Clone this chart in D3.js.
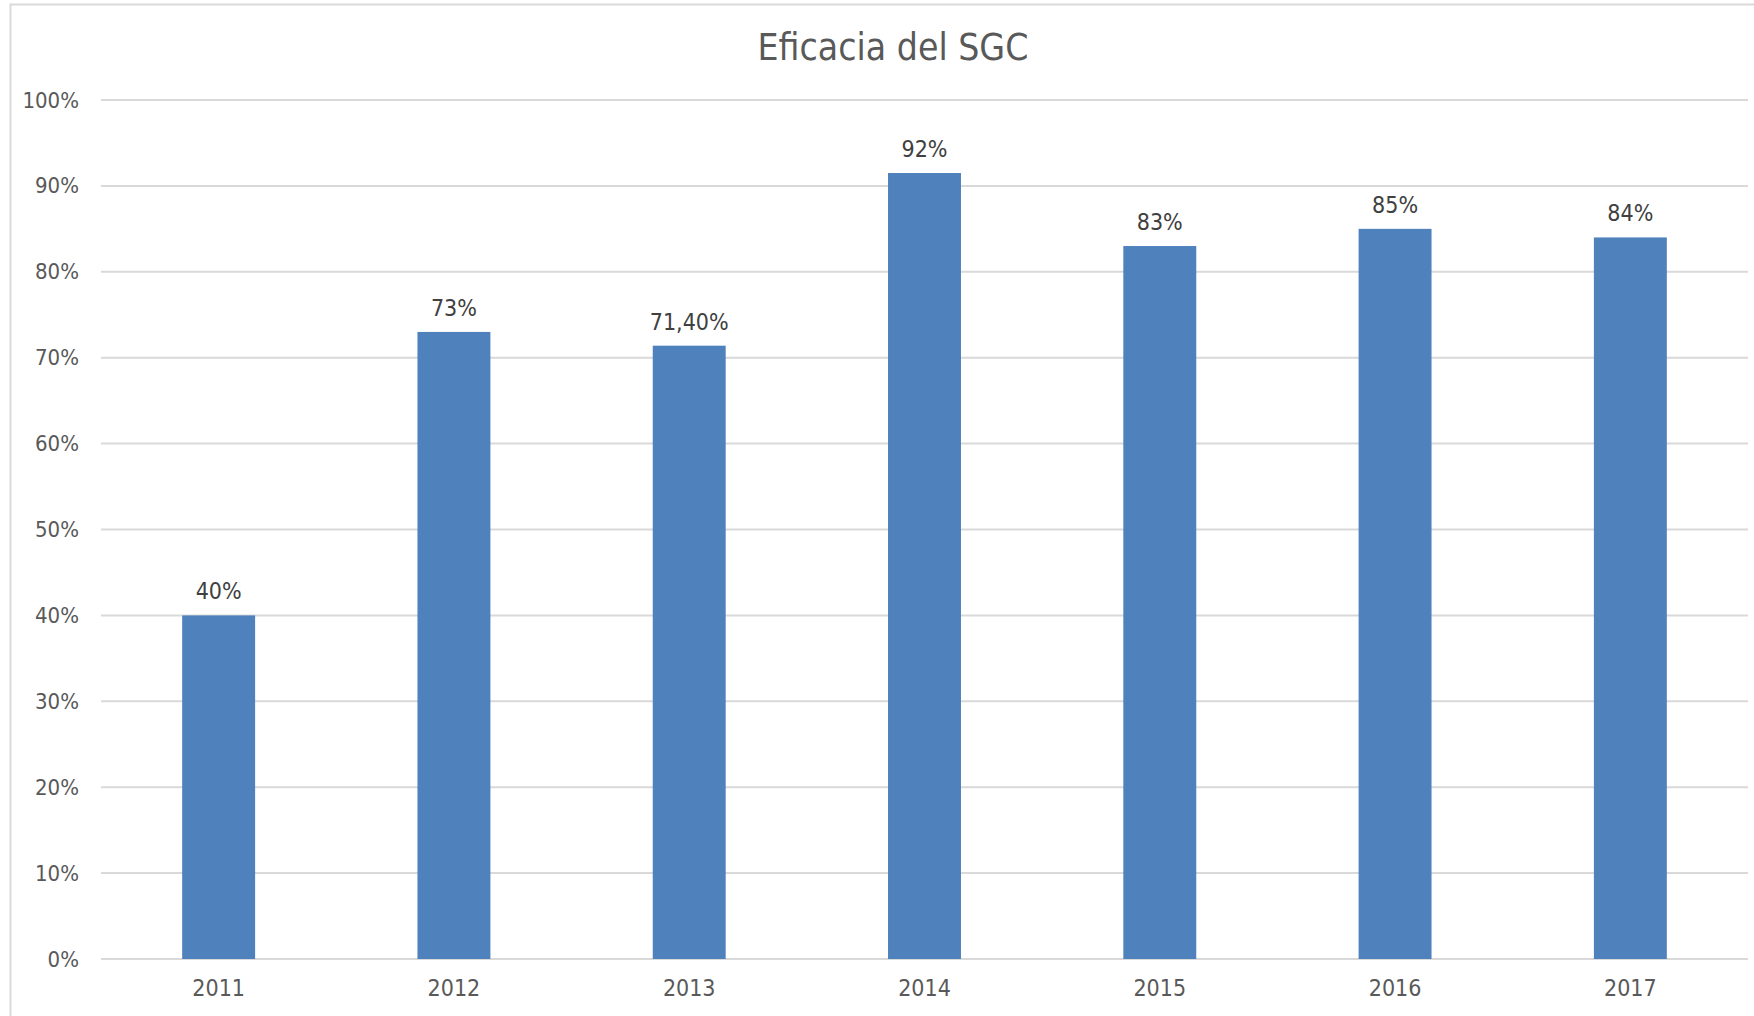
<!DOCTYPE html>
<html>
<head>
<meta charset="utf-8">
<script src="https://cdn.jsdelivr.net/npm/d3@7"></script>
<style>
  html, body { margin: 0; padding: 0; background: #fff; }
  svg { display: block; font-family: "DejaVu Sans Condensed", "DejaVu Sans", sans-serif; }
  .grid line { stroke: #d9d9d9; stroke-width: 2; }
  .axis text { fill: #595959; }
  .bar { fill: #4f81bd; }
  .lbl { fill: #404040; }
</style>
</head>
<body>
<svg id="chart"></svg>
<script>
// ---------- Data ----------
const years   = ["2011", "2012", "2013", "2014", "2015", "2016", "2017"];
const values  = [0.40, 0.73, 0.714, 0.915, 0.83, 0.85, 0.84];
const labels  = ["40%", "73%", "71,40%", "92%", "83%", "85%", "84%"];
const yTicks  = [0, 0.1, 0.2, 0.3, 0.4, 0.5, 0.6, 0.7, 0.8, 0.9, 1.0];
const title   = "Eficacia del SGC";

// ---------- Layout ----------
const W = 1754, H = 1016;
const M = { t: 100, r: 6, b: 57, l: 101 };
const FONT = '"DejaVu Sans Condensed", "DejaVu Sans", sans-serif';
const svg = d3.select("#chart").attr("width", W).attr("height", H);

// chart frame (runs off the right and bottom)
svg.append("rect")
  .attr("x", 10.5).attr("y", 4.5)
  .attr("width", 1780).attr("height", 1040)
  .attr("fill", "#fff").attr("stroke", "#d9d9d9").attr("stroke-width", 2);

const g = svg.append("g").attr("transform", `translate(${M.l},${M.t})`);
const iw = W - M.l - M.r, ih = H - M.t - M.b;

const x = d3.scaleBand().domain(years).range([0, iw]).paddingInner(0.69).paddingOuter(0.345);
const y = d3.scaleLinear().domain([0, 1]).range([ih, 0]);

// gridlines
g.append("g").attr("class", "grid")
  .selectAll("line").data(yTicks).enter().append("line")
  .attr("x1", 0).attr("x2", iw)
  .attr("y1", d => y(d)).attr("y2", d => y(d));

// y axis labels
const yAxis = g.append("g").attr("class", "axis y")
  .call(d3.axisLeft(y).tickValues(yTicks).tickFormat(d3.format(".0%")).tickSize(0).tickPadding(22));
yAxis.attr("font-family", FONT).attr("font-size", 22);
yAxis.select(".domain").remove();

// x axis labels
const xAxis = g.append("g").attr("class", "axis x").attr("transform", `translate(0,${ih})`)
  .call(d3.axisBottom(x).tickSize(0).tickPadding(21));
xAxis.attr("font-family", FONT).attr("font-size", 23);
xAxis.select(".domain").remove();

// bars
g.selectAll(".bar").data(years).enter().append("rect")
  .attr("class", "bar")
  .attr("x", d => x(d))
  .attr("width", x.bandwidth())
  .attr("y", (d, i) => y(values[i]))
  .attr("height", (d, i) => ih - y(values[i]));

// data labels
g.selectAll(".lbl").data(years).enter().append("text")
  .attr("class", "lbl")
  .attr("x", d => x(d) + x.bandwidth() / 2)
  .attr("y", (d, i) => y(values[i]) - 16)
  .attr("text-anchor", "middle")
  .attr("font-size", 23)
  .text((d, i) => labels[i]);

// title
svg.append("text")
  .attr("x", 893).attr("y", 60)
  .attr("text-anchor", "middle")
  .attr("font-size", 37)
  .attr("fill", "#595959")
  .text(title);
</script>
</body>
</html>
